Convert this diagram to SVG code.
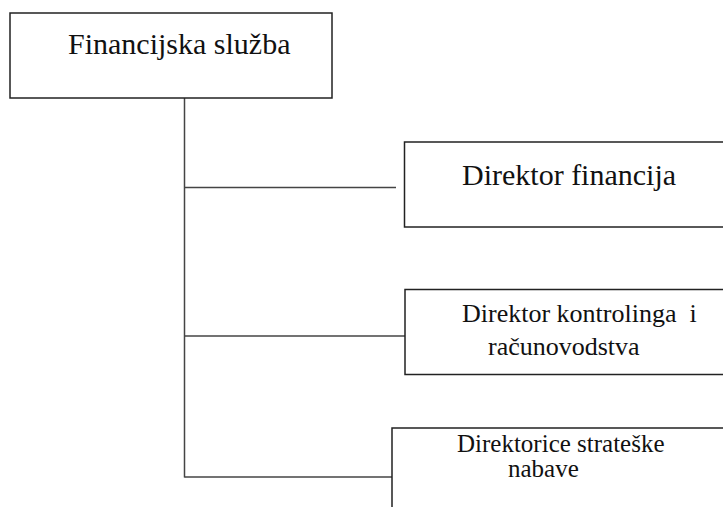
<svg xmlns="http://www.w3.org/2000/svg" width="723" height="507" viewBox="0 0 723 507">
<rect width="723" height="507" fill="#fff"/>
<g id="connectors" stroke="#444" stroke-width="1.5" fill="none">
<line x1="184.5" y1="98" x2="184.5" y2="477.5"/>
<line x1="184.5" y1="187.5" x2="396" y2="187.5"/>
<line x1="184.5" y1="336" x2="405" y2="336"/>
<line x1="184.5" y1="477" x2="392" y2="477"/>
</g>
<g id="financijska-sluzba">
<rect x="10" y="13" width="322" height="85" fill="#fff" stroke="#222" stroke-width="1.5"/>
<text x="68" y="54" font-size="30" font-family="Liberation Serif" fill="#111">Financijska služba</text>
</g>
<g id="direktor-financija">
<rect x="404.5" y="142" width="330" height="85" fill="#fff" stroke="#222" stroke-width="1.5"/>
<text x="462" y="185" font-size="30" font-family="Liberation Serif" fill="#111">Direktor financija</text>
</g>
<g id="direktor-kontrolinga">
<rect x="405" y="289.5" width="330" height="85" fill="#fff" stroke="#222" stroke-width="1.5"/>
<text x="462" y="322" font-size="26" font-family="Liberation Serif" fill="#111">Direktor kontrolinga&#160; i</text>
<text x="488" y="355" font-size="26" font-family="Liberation Serif" fill="#111">računovodstva</text>
</g>
<g id="direktorice-nabave">
<rect x="392" y="428" width="340" height="100" fill="#fff" stroke="#222" stroke-width="1.5"/>
<text x="457" y="452" font-size="25" font-family="Liberation Serif" fill="#111">Direktorice strateške</text>
<text x="508" y="477" font-size="25" font-family="Liberation Serif" fill="#111">nabave</text>
</g>
</svg>
